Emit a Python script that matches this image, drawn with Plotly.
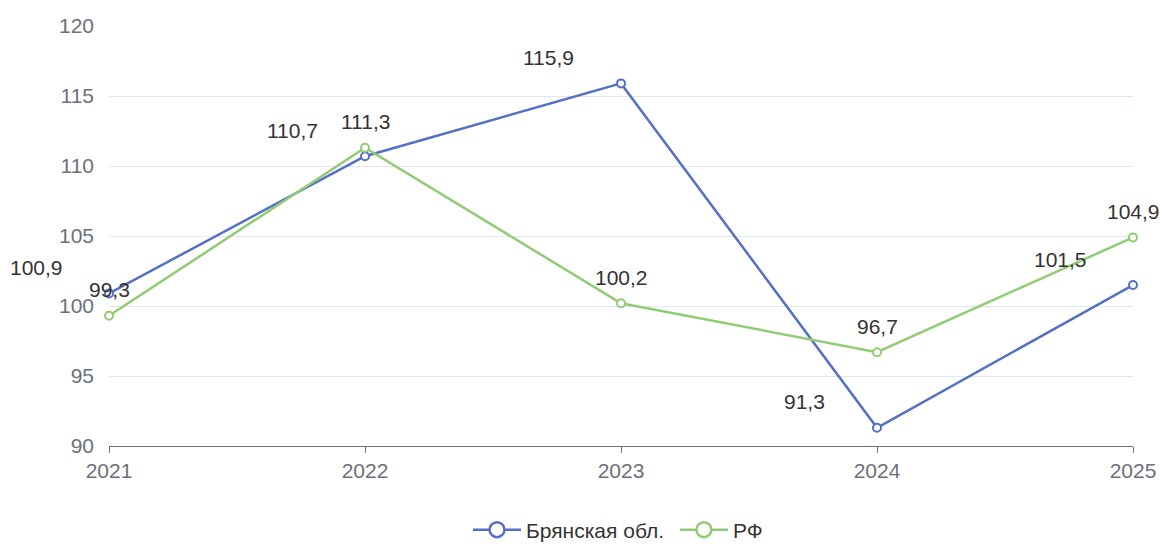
import plotly.graph_objects as go

years = [2021, 2022, 2023, 2024, 2025]
year_labels = ["2021", "2022", "2023", "2024", "2025"]
bryansk = [100.9, 110.7, 115.9, 91.3, 101.5]
rf = [99.3, 111.3, 100.2, 96.7, 104.9]
y_ticks = [90, 95, 100, 105, 110, 115, 120]

BLUE = "#5470c6"
GREEN = "#91cc75"
FONT = "Liberation Sans"

def fmt(v):
    return f"{v:.1f}".replace(".", ",")

fig = go.Figure()
series = [("Брянская обл.", bryansk, BLUE), ("РФ", rf, GREEN)]
for name, vals, color in series:
    fig.add_trace(go.Scatter(
        x=years, y=vals, name=name, mode="lines+markers",
        line=dict(color=color, width=2.5),
        marker=dict(symbol="circle", size=8, color="white",
                    line=dict(color=color, width=2)),
        cliponaxis=False, showlegend=False,
    ))
# legend entries (no data points, legend only)
for name, vals, color in series:
    fig.add_trace(go.Scatter(
        x=[None], y=[None], name=name + " ", mode="lines+markers",
        line=dict(color=color, width=2.5),
        marker=dict(symbol="circle", size=15, color="white",
                    line=dict(color=color, width=2.5)),
        showlegend=True,
    ))

annotations = []
for x, v in zip(years, bryansk):
    annotations.append(dict(x=x, y=v, text=fmt(v), showarrow=False,
                            xshift=-73, yshift=26,
                            font=dict(family=FONT, size=21, color="#333")))
for x, v in zip(years, rf):
    annotations.append(dict(x=x, y=v, text=fmt(v), showarrow=False,
                            xshift=0, yshift=26,
                            font=dict(family=FONT, size=21, color="#333")))

fig.update_layout(
    width=1161, height=544,
    margin=dict(l=109, r=28, t=26, b=98, autoexpand=False),
    paper_bgcolor="white", plot_bgcolor="white",
    font=dict(family=FONT, size=21, color="#6e7079"),
    annotations=annotations,
    showlegend=True,
    legend=dict(orientation="h", x=0.5, xanchor="center", y=-0.2,
                yanchor="middle", font=dict(family=FONT, size=21, color="#333"),
                itemwidth=48),
    xaxis=dict(range=[2021, 2025], tickmode="array", tickvals=years,
               ticktext=year_labels, showgrid=False, zeroline=False,
               showline=True, linecolor="#6e7079", linewidth=1,
               ticks="outside", ticklen=6, tickcolor="#6e7079",
               ticklabeloverflow="allow", automargin=False,
               tickfont=dict(family=FONT, size=21, color="#6e7079")),
    yaxis=dict(range=[90, 120], tickmode="array", tickvals=y_ticks,
               showgrid=True, gridcolor="#e0e6f1", gridwidth=1,
               zeroline=False, showline=False, ticks="",
               ticklabelstandoff=14, automargin=False,
               tickfont=dict(family=FONT, size=21, color="#6e7079")),
)

fig.write_html("out.html", config={"displayModeBar": False},
               post_script="document.body.style.margin='0';document.body.style.overflow='hidden';")
